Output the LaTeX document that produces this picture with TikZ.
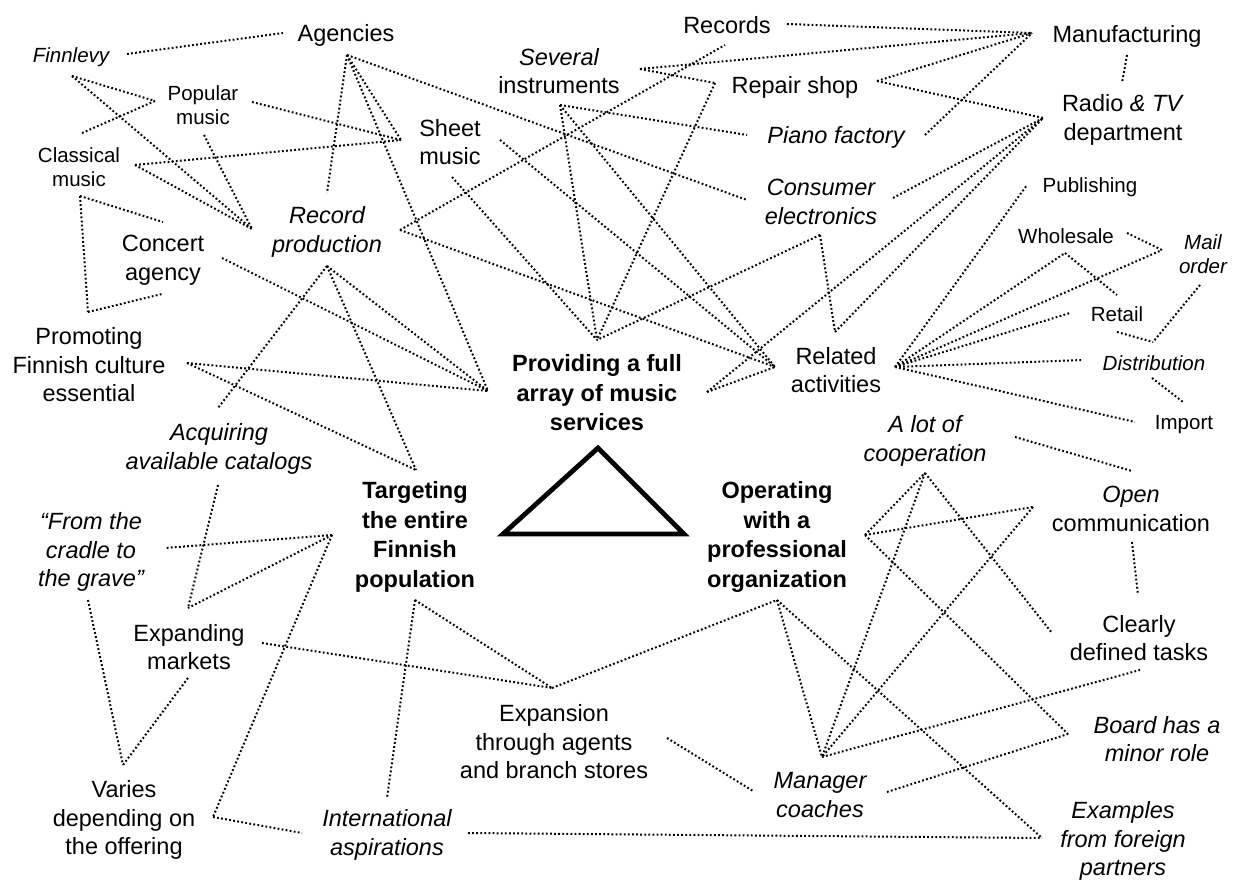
\documentclass[tikz,border=0pt]{standalone}
\usepackage{fontspec}
\setmainfont{Liberation Sans}
\begin{document}
\begin{tikzpicture}[x=1pt,y=-1pt,
  lbl/.style={inner sep=0pt, align=center, font=\fontsize{23.5}{28.5}\selectfont},
  sml/.style={inner sep=0pt, align=center, font=\fontsize{20.5}{24}\selectfont},
  key/.style={inner sep=0pt, align=center, font=\fontsize{23.5}{29.5}\selectfont\bfseries},
  link/.style={line width=2pt, line cap=butt, dash pattern=on 1.8pt off 2.3pt},
  tri/.style={line width=4.8pt, line join=miter}]
\useasboundingbox (0,0) rectangle (1235,882);

% ---------- the three core themes and the triangle ----------
\node[key] (providing) at (597,393) {Providing a full\\array of music\\services};
\node[key] (targeting) at (415,537) {Targeting\\the entire\\Finnish\\population};
\node[key] (operating) at (777,537) {Operating\\with a\\professional\\organization};
\coordinate (tA) at (598,448);
\coordinate (tB) at (503,534);
\coordinate (tC) at (684,534);
\draw[tri] (tB) -- (tA) -- (tC) -- cycle;

% ---------- concepts ----------
\node[lbl] (agencies) at (346,35) {Agencies};
\node[sml] (finnlevy) at (71,57) {\itshape Finnlevy};
\node[sml] (popular) at (203,105) {Popular\\music};
\node[sml] (classical) at (79,167) {Classical\\music};
\node[lbl] (concert) at (163,260) {Concert\\agency};
\node[lbl] (recprod) at (327,232) {\itshape Record\\\itshape production};
\node[lbl] (sheet) at (450,142) {Sheet\\music};
\node[lbl] (several) at (559,71) {\itshape Several\\instruments};
\node[lbl] (records) at (727,25) {Records};
\node[lbl] (repair) at (795,87) {Repair shop};
\node[lbl] (piano) at (836,137) {\itshape Piano factory};
\node[lbl] (consumer) at (821,202) {\itshape Consumer\\\itshape electronics};
\node[lbl] (manuf) at (1127,36) {Manufacturing};
\node[lbl] (radio) at (1123,120) {Radio \textit{\& TV}\\department};
\node[sml] (publishing) at (1090,187) {Publishing};
\node[sml] (wholesale) at (1066,236) {Wholesale};
\node[sml] (mailorder) at (1203,254) {\itshape Mail\\\itshape order};
\node[sml] (retail) at (1117,314) {Retail};
\node[sml] (distribution) at (1154,363) {\itshape Distribution};
\node[sml] (import) at (1184,425) {Import};
\node[lbl] (related) at (836,370) {Related\\activities};
\node[lbl] (promoting) at (89,365) {Promoting\\Finnish culture\\essential};
\node[lbl] (acquiring) at (219,449) {\itshape Acquiring\\\itshape available catalogs};
\node[lbl] (cradle) at (91,552) {\itshape “From the\\\itshape cradle to\\\itshape the grave”};
\node[lbl] (expanding) at (189,647) {Expanding\\markets};
\node[lbl] (varies) at (124,820) {Varies\\depending on\\the offering};
\node[lbl] (intl) at (387,835) {\itshape International\\\itshape aspirations};
\node[lbl] (expansion) at (554,742) {Expansion\\through agents\\and branch stores};
\node[lbl] (manager) at (820,795) {\itshape Manager\\\itshape coaches};
\node[lbl] (cooperation) at (925,441) {\itshape A lot of\\\itshape cooperation};
\node[lbl] (open) at (1131,509) {\itshape Open\\communication};
\node[lbl] (clearly) at (1139,638) {Clearly\\defined tasks};
\node[lbl] (board) at (1157,739) {\itshape Board has a\\\itshape minor role};
\node[lbl] (examples) at (1123,841) {\itshape Examples\\\itshape from foreign\\\itshape partners};

% ---------- connector ends beside the concepts ----------
\coordinate (fin-r) at (127,54);   \coordinate (fin-b) at (72,76);
\coordinate (ag-l) at (283,33);    \coordinate (ag-b) at (347,55);
\coordinate (pop-l) at (155,101);  \coordinate (pop-r) at (252,102);
\coordinate (pop-b) at (204,135);
\coordinate (cla-t) at (82,133);   \coordinate (cla-r) at (135,165);
\coordinate (cla-b) at (80,196);
\coordinate (con-tl) at (163,222); \coordinate (con-b) at (162,294);
\coordinate (con-r) at (222,258);
\coordinate (prm-t) at (88,312);   \coordinate (prm-r) at (187,363);
\coordinate (rec-l) at (252,229);  \coordinate (rec-t) at (327,193);
\coordinate (rec-r) at (400,230);  \coordinate (rec-b) at (327,266);
\coordinate (she-l) at (401,140);  \coordinate (she-r) at (500,140);
\coordinate (she-b) at (452,177);
\coordinate (sev-b) at (560,105);  \coordinate (sev-r) at (640,69);
\coordinate (recs-r) at (787,24);  \coordinate (recs-b) at (725,45);
\coordinate (rep-l) at (715,83);   \coordinate (rep-r) at (877,81);
\coordinate (pia-l) at (747,135);  \coordinate (pia-r) at (925,135);
\coordinate (cons-l) at (747,200); \coordinate (cons-r) at (893,198);
\coordinate (cons-b) at (820,235);
\coordinate (man-l) at (1032,33);  \coordinate (man-b) at (1127,55);
\coordinate (rad-t) at (1122,83);  \coordinate (rad-l) at (1043,118);
\coordinate (prov-t) at (597,340); \coordinate (prov-l) at (488,391);
\coordinate (prov-r) at (707,392);
\coordinate (rel-l) at (775,367);  \coordinate (rel-t) at (835,332);
\coordinate (rel-r) at (895,367);
\coordinate (pub-l) at (1027,185); \coordinate (who-b) at (1065,253);
\coordinate (who-r) at (1127,233); \coordinate (mail-l) at (1162,250);
\coordinate (mail-b) at (1200,285);
\coordinate (ret-l) at (1070,313); \coordinate (ret-t) at (1117,295);
\coordinate (ret-br) at (1117,332);
\coordinate (dis-l) at (1083,360); \coordinate (dis-t) at (1153,342);
\coordinate (dis-b) at (1152,378);
\coordinate (imp-l) at (1135,422); \coordinate (imp-t) at (1183,402);
\coordinate (acq-t) at (218,408);  \coordinate (acq-b) at (218,485);
\coordinate (tar-t) at (416,470);  \coordinate (tar-l) at (332,535);
\coordinate (tar-b) at (415,600);
\coordinate (cra-r) at (165,548);  \coordinate (cra-b) at (88,600);
\coordinate (exp-t) at (188,608);  \coordinate (exp-r) at (262,643);
\coordinate (exp-b) at (188,678);
\coordinate (var-t) at (123,765);  \coordinate (var-r) at (213,817);
\coordinate (int-l) at (302,833);  \coordinate (int-t) at (387,798);
\coordinate (int-r) at (468,833);
\coordinate (xpn-t) at (552,688);  \coordinate (xpn-r) at (667,738);
\coordinate (ope-b) at (777,600);  \coordinate (ope-r) at (865,535);
\coordinate (mgr-t) at (822,757);  \coordinate (mgr-l) at (753,791);
\coordinate (mgr-r) at (887,792);
\coordinate (coo-b) at (925,473);  \coordinate (coo-r) at (1015,437);
\coordinate (opn-l) at (1033,507); \coordinate (opn-t) at (1132,471);
\coordinate (opn-b) at (1132,542);
\coordinate (clr-t) at (1138,595); \coordinate (clr-tl) at (1052,633);
\coordinate (clr-bl) at (1140,670);
\coordinate (brd-l) at (1068,734); \coordinate (exa-l) at (1042,838);

% ---------- dotted links ----------
\begin{scope}[link]
% upper left cluster
\draw (fin-r) -- (ag-l);
\draw (fin-b) -- (pop-l);
\draw (cla-t) -- (pop-l);
\draw (fin-b) -- (rec-l);
\draw (pop-r) -- (she-l);
\draw (cla-r) -- (she-l);
\draw (cla-r) -- (rec-l);
\draw (pop-b) -- (rec-l);
\draw (cla-b) -- (con-tl);
\draw (cla-b) -- (prm-t);
\draw (prm-t) -- (con-b);
\draw (ag-b) -- (rec-t);
\draw (ag-b) -- (she-l);
\draw (ag-b) -- (prov-l);
\draw (ag-b) -- (cons-l);
\draw (con-r) -- (prov-l);
\draw (rec-b) -- (acq-t);
\draw (rec-b) -- (tar-t);
\draw (rec-b) -- (prov-l);
\draw (prm-r) -- (prov-l);
\draw (prm-r) -- (tar-t);
% upper middle cluster
\draw (rec-r) -- (recs-b);
\draw (rec-r) -- (rel-l);
\draw (she-r) -- (rel-l);
\draw (she-b) -- (prov-t);
\draw (sev-b) -- (pia-l);
\draw (sev-b) -- (prov-t);
\draw (sev-b) -- (rel-l);
\draw (sev-r) -- (man-l);
\draw (sev-r) -- (rep-l);
\draw (recs-r) -- (man-l);
\draw (rep-l) -- (prov-t);
\draw (rep-r) -- (man-l);
\draw (rep-r) -- (rad-l);
\draw (pia-r) -- (man-l);
\draw (cons-r) -- (rad-l);
\draw (cons-b) -- (prov-t);
\draw (cons-b) -- (rel-t);
\draw (rel-t) -- (rad-l);
\draw (prov-r) -- (rad-l);
\draw (prov-r) -- (rel-l);
\draw (man-b) -- (rad-t);
% related activities
\draw (rel-r) -- (pub-l);
\draw (rel-r) -- (who-b);
\draw (rel-r) -- (mail-l);
\draw (rel-r) -- (ret-l);
\draw (rel-r) -- (dis-l);
\draw (rel-r) -- (imp-l);
\draw (who-b) -- (ret-t);
\draw (who-r) -- (mail-l);
\draw (mail-b) -- (dis-t);
\draw (ret-br) -- (dis-t);
\draw (dis-b) -- (imp-t);
% lower left cluster
\draw (acq-b) -- (exp-t);
\draw (tar-l) -- (exp-t);
\draw (tar-l) -- (cra-r);
\draw (tar-l) -- (var-r);
\draw (var-r) -- (int-l);
\draw (cra-b) -- (var-t);
\draw (exp-b) -- (var-t);
\draw (exp-r) -- (xpn-t);
\draw (tar-b) -- (xpn-t);
\draw (tar-b) -- (int-t);
\draw (xpn-t) -- (ope-b);
% lower right cluster
\draw (ope-b) -- (mgr-t);
\draw (ope-b) -- (exa-l);
\draw (xpn-r) -- (mgr-l);
\draw (int-r) -- (exa-l);
\draw (mgr-r) -- (brd-l);
\draw (ope-r) -- (coo-b);
\draw (ope-r) -- (opn-l);
\draw (ope-r) -- (brd-l);
\draw (coo-b) -- (mgr-t);
\draw (coo-b) -- (clr-tl);
\draw (opn-l) -- (mgr-t);
\draw (mgr-t) -- (clr-bl);
\draw (coo-r) -- (opn-t);
\draw (opn-b) -- (clr-t);
\end{scope}
\end{tikzpicture}
\end{document}
